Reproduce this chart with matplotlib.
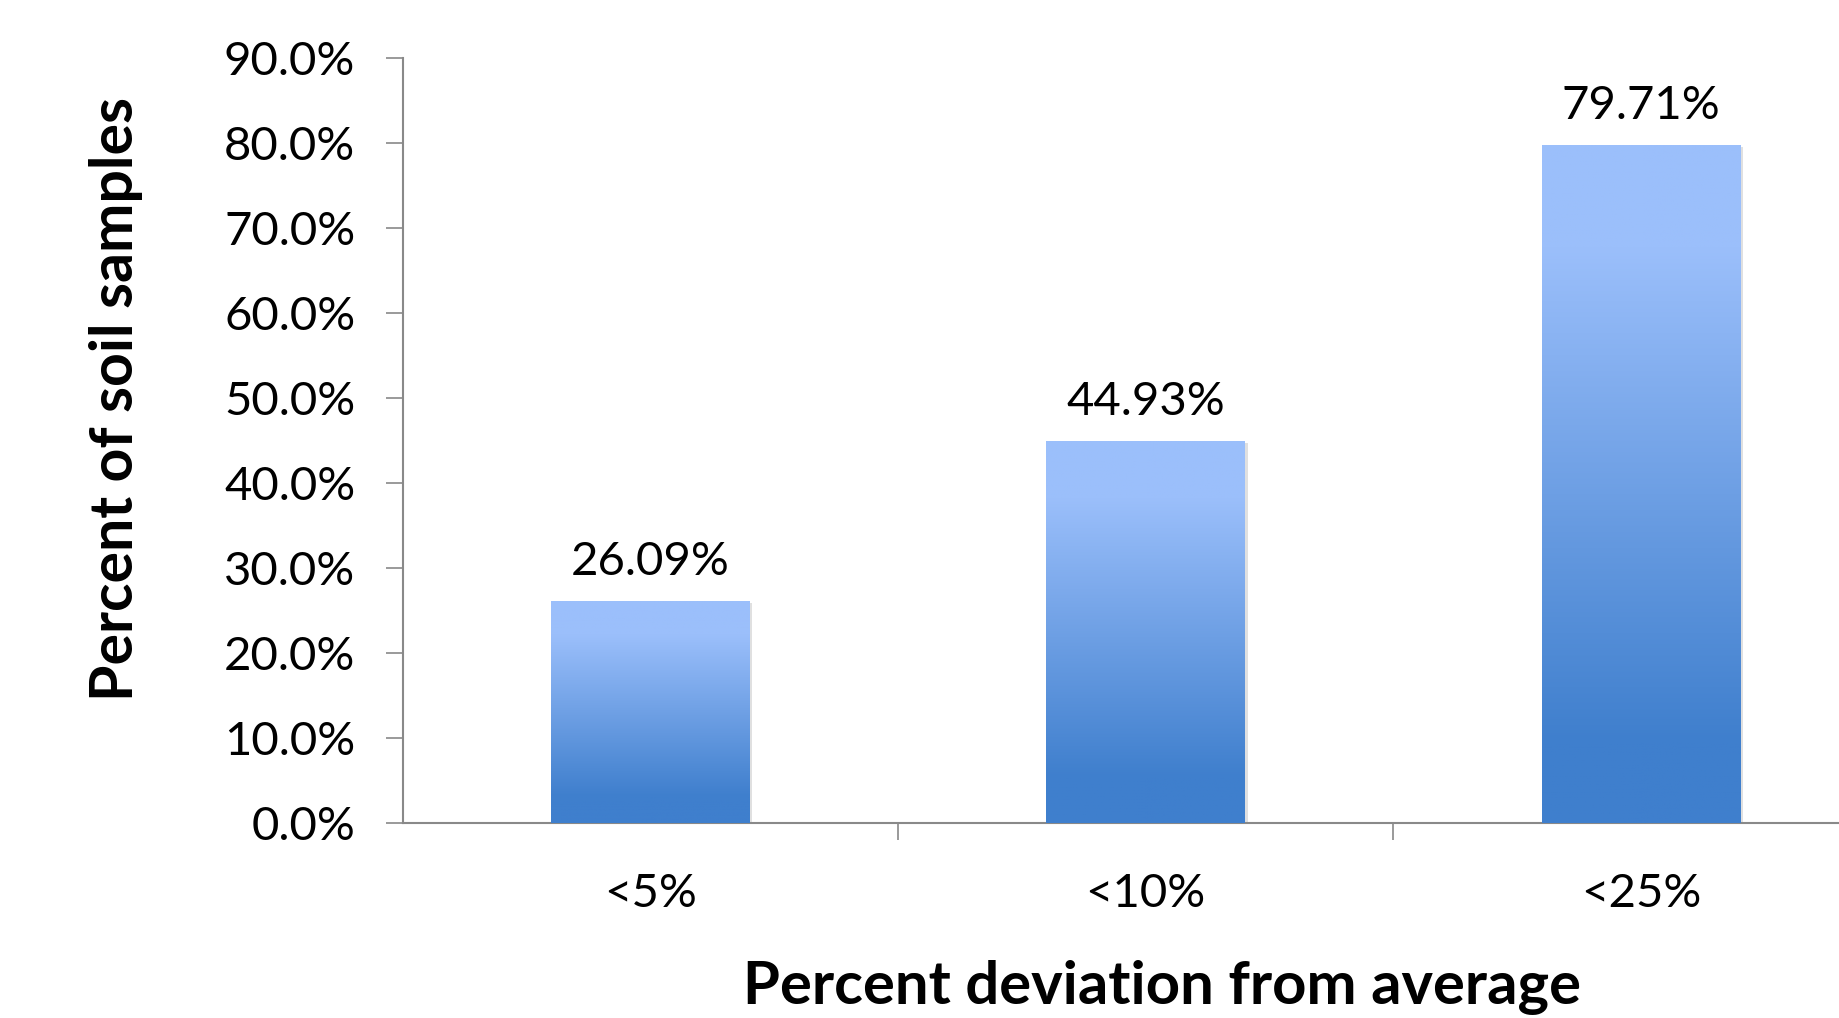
import matplotlib
matplotlib.use("Agg")
import matplotlib.pyplot as plt
import numpy as np
from matplotlib.colors import LinearSegmentedColormap
from matplotlib.patches import Rectangle
import matplotlib.font_manager as fm

categories = ["<5%", "<10%", "<25%"]
values = [26.09, 44.93, 79.71]
value_labels = ["26.09%", "44.93%", "79.71%"]
yticks = [0, 10, 20, 30, 40, 50, 60, 70, 80, 90]
ytick_labels = ["0.0%", "10.0%", "20.0%", "30.0%", "40.0%", "50.0%", "60.0%", "70.0%", "80.0%", "90.0%"]

names = {f.name for f in fm.fontManager.ttflist}
narrow = "Liberation Sans Narrow" if "Liberation Sans Narrow" in names else "Lato"
base = "Lato"

fig = plt.figure(figsize=(18.39, 10.18), dpi=100)
ax = fig.add_axes([0.2189, 0.1916, 0.808, 0.7519])

light = "#9BBFFB"
dark = "#3F7FCD"
cmap = LinearSegmentedColormap.from_list("g", [(0, dark), (0.12, dark), (0.85, light), (1.0, light)])
grad = np.linspace(0, 1, 256).reshape(-1, 1)

width = 0.4
x = np.arange(len(categories))
bars = ax.bar(x, values, width=width, color="none", edgecolor="none", zorder=3)
for b in bars:
    x0, y0, w, h = b.get_x(), b.get_y(), b.get_width(), b.get_height()
    sh = Rectangle((x0 + 0.006, y0 - 0.25), w, h, facecolor="#000000", alpha=0.12,
                   edgecolor="none", zorder=2)
    ax.add_patch(sh)
    im = ax.imshow(grad, cmap=cmap, aspect="auto", extent=[x0, x0 + w, y0, y0 + h],
                   origin="lower", zorder=3)
    im.set_clip_path(b)

for xi, v, lab in zip(x, values, value_labels):
    ax.annotate(lab, (xi, v), xytext=(0, 28), textcoords="offset points",
                ha="center", va="center", fontsize=34, family=base, color="black")

ax.set_xlim(-0.5, 2.5)
ax.set_ylim(0, 90)
ax.set_yticks(yticks)
ax.set_yticklabels(ytick_labels, family=base, fontsize=34)
ax.set_xticks([0.5, 1.5, 2.5])
ax.set_xticklabels([])
ax.set_xticks(x, minor=True)
ax.set_xticklabels(categories, minor=True, family=narrow, fontsize=34)
ax.tick_params(axis="x", which="minor", length=0, pad=36)
ax.tick_params(axis="x", which="major", length=12, width=1.2, color="#898989", direction="out")
ax.tick_params(axis="y", length=12, width=1.2, color="#898989", direction="out", pad=22)

for s in ["top", "right"]:
    ax.spines[s].set_visible(False)
for s in ["left", "bottom"]:
    ax.spines[s].set_color("#898989")
    ax.spines[s].set_linewidth(1.5)

ax.set_ylabel("Percent of soil samples", family=base, fontweight="bold", fontsize=42.5,
              labelpad=58, y=0.554)
fig.text(0.632, 0.030, "Percent deviation from average", family=narrow, fontweight="bold",
         fontsize=43, ha="center", va="center")

fig.savefig("out.png", dpi=100, facecolor="white")
